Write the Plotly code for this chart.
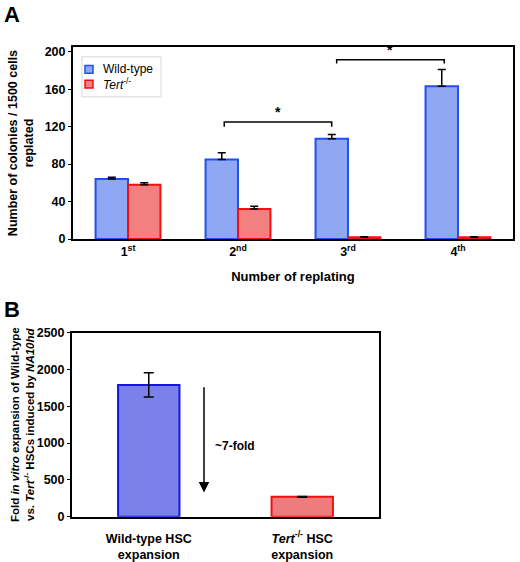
import plotly.graph_objects as go

# panel A - serial replating
replating = ["1<sup>st</sup>", "2<sup>nd</sup>", "3<sup>rd</sup>", "4<sup>th</sup>"]
wt_colonies = [64, 85, 107, 163]
wt_err = [2, 7, 4.5, 18]
tert_colonies = [58, 32, 2, 2]
tert_err = [2, 3, 0.5, 0.5]
legend_names = ["Wild-type", "<i>Tert</i><sup>-/-</sup>"]

# panel B - HSC expansion
hsc_groups = ["Wild-type HSC<br>expansion", "<i>Tert</i><sup>-/-</sup> HSC<br>expansion"]
hsc_fold = [1790, 270]
hsc_err = [165, 5]

FONT = "Liberation Sans, Arial, sans-serif"
BLUE_FILL, BLUE_LINE = "#90a8f4", "#2050ee"
RED_FILL, RED_LINE = "#f28080", "#ee1111"

fig = go.Figure()

fig.add_trace(go.Bar(
    x=replating, y=wt_colonies, name=legend_names[0], showlegend=False,
    marker=dict(color=BLUE_FILL, line=dict(color=BLUE_LINE, width=2)),
    error_y=dict(type="data", symmetric=False, array=wt_err, arrayminus=[0] * 4,
                 color="black", thickness=1.5, width=4),
    xaxis="x", yaxis="y",
))
fig.add_trace(go.Bar(
    x=replating, y=tert_colonies, name=legend_names[1], showlegend=False,
    marker=dict(color=RED_FILL, line=dict(color=RED_LINE, width=2)),
    error_y=dict(type="data", symmetric=False, array=tert_err, arrayminus=[0] * 4,
                 color="black", thickness=1.5, width=4),
    xaxis="x", yaxis="y",
))

fig.add_trace(go.Bar(
    x=hsc_groups, y=hsc_fold, showlegend=False,
    marker=dict(color=["#7c80ea", "#ef7c7c"], line=dict(color=["#1515dd", RED_LINE], width=2)),
    error_y=dict(type="data", array=hsc_err, color="black", thickness=1.5, width=5),
    width=0.4,
    xaxis="x2", yaxis="y2",
))

tick_font = dict(family=FONT, size=12.5, color="black", weight="bold")
axis_common = dict(showline=True, mirror=True, linecolor="black", linewidth=2,
                   showgrid=False, zeroline=False, tickcolor="black", tickfont=tick_font)

fig.update_layout(
    width=520, height=562,
    margin=dict(l=0, r=0, t=0, b=0),
    paper_bgcolor="white", plot_bgcolor="white",
    font=dict(family=FONT, color="black"),
    barmode="group", bargap=0.41, bargroupgap=0,
    showlegend=False,
    xaxis=dict(domain=[0.1404, 0.9865], anchor="y", ticks="",
               title=dict(text="Number of replating", standoff=14,
                          font=dict(size=13, weight="bold")),
               **axis_common),
    yaxis=dict(domain=[0.5765, 0.927], anchor="x", range=[0, 205],
               tickvals=[0, 40, 80, 120, 160, 200], ticks="outside", ticklen=3,
               title=dict(text="Number of colonies / 1500 cells<br>replated", standoff=8,
                          font=dict(size=12.5, weight="bold")),
               **axis_common),
    xaxis2=dict(domain=[0.1385, 0.7288], anchor="y2", ticks="", ticklabelstandoff=9,
                **axis_common),
    yaxis2=dict(domain=[0.0699, 0.4057], anchor="x2", range=[0, 2500],
                tickvals=[0, 500, 1000, 1500, 2000, 2500], ticks="outside", ticklen=3,
                title=dict(text="Fold <i>in vitro</i> expansion of Wild-type<br>"
                                "vs. <i>Tert</i><sup>-/-</sup> HSCs induced by <i>NA10hd</i>",
                           standoff=0, font=dict(size=11.5, weight="bold")),
                **axis_common),
)

# legend box for panel A, placed with pixel positions turned into paper fractions
W, H = 520, 562
def px(x, y):
    return x / W, 1 - y / H

lx0, ly0 = px(82, 51)
lx1, ly1 = px(161, 92)
fig.add_shape(type="rect", xref="paper", yref="paper", x0=lx0, y0=ly1, x1=lx1, y1=ly0,
              line=dict(color="#e6e6e6", width=1.5), fillcolor="white")
for i, (name, fill, edge) in enumerate(zip(legend_names, (BLUE_FILL, RED_FILL), (BLUE_LINE, RED_LINE))):
    cy = 64 + 15 * i
    sx0, sy0 = px(85, cy - 4)
    sx1, sy1 = px(93, cy + 4)
    fig.add_shape(type="rect", xref="paper", yref="paper", x0=sx0, y0=sy1, x1=sx1, y1=sy0,
                  line=dict(color=edge, width=1.5), fillcolor=fill)
    tx, ty = px(101, cy)
    fig.add_annotation(x=tx, y=ty, xref="paper", yref="paper", text=name, showarrow=False,
                       xanchor="left", yanchor="middle", font=dict(size=12))

# significance brackets between wild-type bars
brackets = [(0.875, 1.852, 125, 120), (1.897, 2.875, 191.5, 187.5)]
for x0, x1, ytop, ybot in brackets:
    fig.add_shape(type="path", xref="x", yref="y",
                  path=f"M {x0} {ybot} L {x0} {ytop} L {x1} {ytop} L {x1} {ybot}",
                  line=dict(color="black", width=1.5))
    fig.add_annotation(x=(x0 + x1) / 2, y=ytop, xref="x", yref="y", text="<b>*</b>",
                       showarrow=False, yanchor="bottom", font=dict(size=14))

# fold-change arrow
fig.add_annotation(x=0.36, y=330, ax=0.36, ay=1780, xref="x2", yref="y2",
                   axref="x2", ayref="y2", text="", showarrow=True,
                   arrowhead=2, arrowsize=1.4, arrowwidth=1.5, arrowcolor="black")
fig.add_annotation(x=0.42, y=960, xref="x2", yref="y2", text="<b>~7-fold</b>",
                   showarrow=False, xanchor="left", font=dict(size=12))

# panel letters
for letter, ypos in (("A", 1.012), ("B", 0.474)):
    fig.add_annotation(x=0.004, y=ypos, xref="paper", yref="paper", text=f"<b>{letter}</b>",
                       showarrow=False, xanchor="left", yanchor="top", font=dict(size=22))

# the page's default body margin would push the 520x562 figure off the window
fig.write_html("out.html", config={"displayModeBar": False},
               post_script="document.body.style.margin = '0';")
